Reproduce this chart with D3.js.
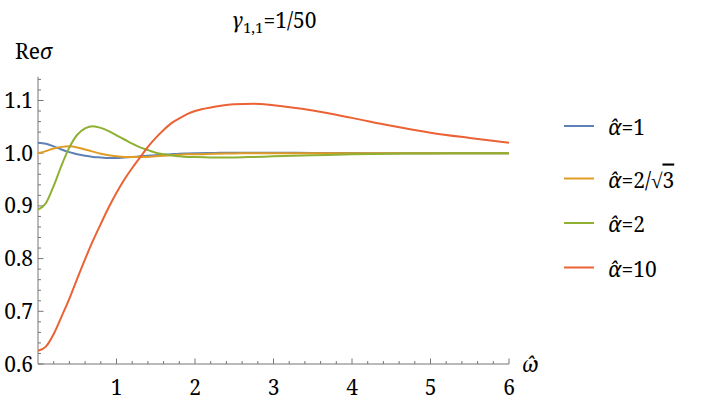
<!DOCTYPE html>
<html><head><meta charset="utf-8">
<script src="https://cdn.jsdelivr.net/npm/d3@7/dist/d3.min.js"></script>
<style>
#c text, #c tspan { font-family: "Noto Serif", "Liberation Serif", "DejaVu Serif", serif !important; }
</style>
</head>
<body style="margin:0;background:#fff"><svg id="c" width="721" height="403"></svg>
<script>
const omega = [0,0.1,0.2,0.3,0.4,0.5,0.6,0.7,0.8,0.9,1.0,1.1,1.2,1.3,1.4,1.5,1.6,1.7,1.8,1.9,2.0,2.25,2.5,2.75,3.0,3.5,4.0,4.5,5.0,5.5,6.0];
const alpha1   = [1.020,1.018,1.013,1.007,1.002,0.998,0.995,0.993,0.992,0.991,0.991,0.992,0.993,0.994,0.995,0.996,0.997,0.998,0.999,0.9995,1.000,1.0005,1.001,1.001,1.001,1.0005,1.0003,1.0,1.0,1.0,1.0];
const alpha2s3 = [1.000,1.004,1.009,1.012,1.013,1.011,1.007,1.003,0.999,0.996,0.994,0.993,0.993,0.993,0.993,0.994,0.995,0.996,0.997,0.998,0.998,0.999,0.9995,1.0,1.0,1.0,1.0,1.0,1.0,1.0,1.0];
const alpha2   = [0.893,0.905,0.938,0.977,1.011,1.035,1.047,1.051,1.048,1.042,1.034,1.026,1.018,1.011,1.006,1.001,0.998,0.996,0.994,0.993,0.993,0.992,0.992,0.993,0.994,0.996,0.998,0.999,0.9995,1.0,1.0];
const alpha10  = [0.625,0.633,0.657,0.690,0.724,0.762,0.799,0.834,0.866,0.897,0.925,0.950,0.972,0.992,1.012,1.029,1.044,1.057,1.066,1.074,1.080,1.088,1.093,1.094,1.091,1.081,1.067,1.052,1.039,1.029,1.020];
const seriesNames = ["=1","=2/√","=2","=10"];
const seriesValues = [alpha1, alpha2s3, alpha2, alpha10];
const colors = ["#5E81B5","#E19C24","#8FB032","#EB6235"];
const xTicks = [1,2,3,4,5,6];
const yTicks = [0.6,0.7,0.8,0.9,1.0,1.1];

const svg = d3.select("#c");
const x = d3.scaleLinear().domain([0,6]).range([38,509]);
const y = d3.scaleLinear().domain([0.6,1.1]).range([364,100.5]);
const yTop = 1.145;
const axisColor = "#777";
const FS = 21;

function txt(sel){ return sel.append("text").attr("font-size",FS); }

const xMinor = d3.range(0,6.0001,0.2).filter(v=>Math.abs(v-Math.round(v))>1e-6);
const yMinor = d3.range(0.6,yTop,0.02).filter(v=>Math.abs(v*10-Math.round(v*10))>1e-6);

const gx = svg.append("g").attr("transform",`translate(0,${y(0.6)})`);
gx.append("line").attr("x1",x(0)).attr("x2",x(6)).attr("stroke",axisColor).attr("stroke-width",1);
gx.selectAll(".mn").data(xMinor).join("line").attr("x1",d=>x(d)).attr("x2",d=>x(d)).attr("y1",0).attr("y2",-3).attr("stroke",axisColor);
gx.selectAll(".mj").data(xTicks).join("line").attr("x1",d=>x(d)).attr("x2",d=>x(d)).attr("y1",0).attr("y2",-5.5).attr("stroke",axisColor);
gx.selectAll(".lb").data(xTicks).join("text").attr("x",d=>x(d)).attr("y",31).attr("text-anchor","middle").attr("font-size",FS).text(d=>d);

const gy = svg.append("g").attr("transform",`translate(${x(0)},0)`);
gy.append("line").attr("y1",y(0.6)).attr("y2",y(yTop)).attr("stroke",axisColor).attr("stroke-width",1);
gy.selectAll(".mn").data(yMinor).join("line").attr("y1",d=>y(d)).attr("y2",d=>y(d)).attr("x1",0).attr("x2",3).attr("stroke",axisColor);
gy.selectAll(".mj").data(yTicks).join("line").attr("y1",d=>y(d)).attr("y2",d=>y(d)).attr("x1",0).attr("x2",5.5).attr("stroke",axisColor);
gy.selectAll(".lb").data(yTicks).join("text").attr("x",-5).attr("y",d=>y(d)+7.5).attr("text-anchor","end").attr("font-size",FS).text(d=>d.toFixed(1));

const line = d3.line().x((d,i)=>x(omega[i])).y(d=>y(d)).curve(d3.curveMonotoneX);
svg.append("g").selectAll("path").data(seriesValues).join("path")
  .attr("d",d=>line(d)).attr("fill","none").attr("stroke",(d,i)=>colors[i]).attr("stroke-width",2);

// title
const t = txt(svg).attr("x",274).attr("y",28).attr("text-anchor","middle");
t.append("tspan").attr("font-style","italic").text("γ");
t.append("tspan").attr("font-size",15).attr("dy",5).text("1,1");
t.append("tspan").attr("dy",-5).text("=1/50");

// axis labels
const yl = txt(svg).attr("x",15).attr("y",59);
yl.append("tspan").text("Re");
yl.append("tspan").attr("font-style","italic").text("σ");

const xl = txt(svg).attr("x",522).attr("y",372);
xl.append("tspan").attr("font-style","italic").text("ω\u0302");

const legY = [126,178.5,223,267.5];
const lg = svg.append("g");
seriesNames.forEach((n,i)=>{
  lg.append("line").attr("x1",564).attr("x2",594).attr("y1",legY[i]).attr("y2",legY[i]).attr("stroke",colors[i]).attr("stroke-width",2);
  const tx = txt(lg).attr("x",608).attr("y",legY[i]+9);
  tx.append("tspan").attr("font-style","italic").text("α\u0302");
  tx.append("tspan").text(n);
  if(n.indexOf("√")>=0){
    tx.append("tspan").style("text-decoration","overline").text("3");
  }
});
</script></body></html>
